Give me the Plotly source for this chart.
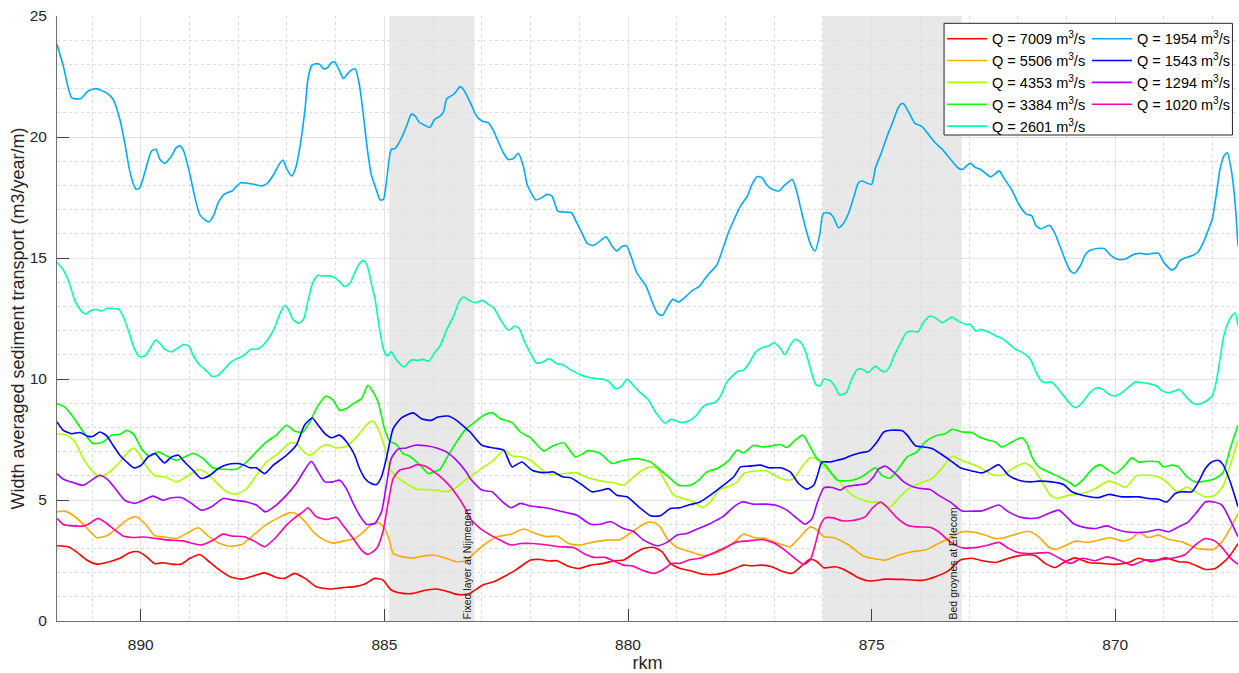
import plotly.graph_objects as go

# ---------------- data ----------------
discharges = [7009, 5506, 4353, 3384, 2601, 1954, 1543, 1294, 1020]
line_colors = ["#ff0000", "#ffaa00", "#aaff00", "#00ff00", "#00ffaa",
               "#00aaff", "#0000ff", "#aa00ff", "#ff00aa"]

q7009 = [(891.72,3.11),(891.49,3.07),(891.32,2.86),(891.11,2.52),(890.91,2.35),(890.70,2.42),(890.43,2.59),(890.23,2.82),(890.05,2.86),(889.88,2.65),(889.71,2.37),(889.54,2.41),(889.37,2.35),(889.17,2.35),(888.99,2.59),(888.79,2.75),(888.58,2.42),(888.38,2.10),(888.17,1.83),(887.93,1.73),(887.69,1.86),(887.46,1.99),(887.22,1.80),(887.05,1.76),(886.84,1.97),(886.63,1.76),(886.40,1.42),(886.12,1.32),(885.85,1.38),(885.61,1.42),(885.40,1.53),(885.20,1.76),(885.03,1.69),(884.86,1.28),(884.62,1.14),(884.41,1.14),(884.21,1.25),(883.93,1.32),(883.69,1.21),(883.52,1.10),(883.32,1.10),(883.24,1.15),(882.96,1.51),(882.76,1.62),(882.55,1.83),(882.31,2.10),(882.00,2.52),(881.80,2.54),(881.63,2.48),(881.46,2.49),(881.25,2.28),(881.01,2.17),(880.77,2.31),(880.50,2.38),(880.29,2.49),(880.09,2.52),(879.88,2.79),(879.68,3.00),(879.47,3.04),(879.30,2.86),(879.13,2.38),(878.93,2.17),(878.72,2.08),(878.45,1.93),(878.17,1.93),(877.97,2.04),(877.76,2.21),(877.63,2.31),(877.46,2.28),(877.25,2.31),(877.05,2.24),(876.84,2.06),(876.63,1.97),(876.46,2.24),(876.26,2.56),(876.12,2.45),(875.98,2.20),(875.75,2.24),(875.54,2.10),(875.27,1.79),(875.03,1.65),(874.72,1.73),(874.38,1.72),(873.97,1.68),(873.69,1.83),(873.42,2.08),(873.18,2.52),(872.94,2.59),(872.70,2.48),(872.46,2.42),(872.19,2.59),(871.92,2.72),(871.64,2.70),(871.44,2.38),(871.23,2.21),(871.03,2.45),(870.82,2.61),(870.55,2.42),(870.27,2.38),(870.00,2.34),(869.73,2.42),(869.52,2.59),(869.25,2.45),(868.97,2.61),(868.70,2.45),(868.50,2.42),(868.29,2.24),(868.15,2.13),(867.95,2.17),(867.78,2.42),(867.64,2.72),(867.48,3.20)]

q5506 = [(891.72,4.51),(891.56,4.54),(891.39,4.37),(891.18,4.00),(890.91,3.45),(890.70,3.52),(890.50,3.82),(890.29,4.17),(890.09,4.31),(889.92,4.03),(889.71,3.52),(889.54,3.48),(889.27,3.41),(889.06,3.62),(888.82,3.85),(888.62,3.52),(888.38,3.20),(888.17,3.09),(887.93,3.16),(887.69,3.55),(887.42,3.99),(887.18,4.26),(886.94,4.48),(886.80,4.42),(886.63,4.10),(886.43,3.62),(886.19,3.30),(886.05,3.22),(885.85,3.30),(885.61,3.41),(885.44,3.66),(885.27,3.99),(885.13,4.07),(884.99,3.82),(884.89,3.27),(884.82,2.79),(884.62,2.65),(884.41,2.61),(884.21,2.68),(883.97,2.72),(883.73,2.59),(883.52,2.45),(883.32,2.49),(883.24,2.65),(882.96,3.14),(882.69,3.48),(882.41,3.58),(882.14,3.80),(881.90,3.62),(881.66,3.48),(881.46,3.51),(881.22,3.20),(880.98,3.14),(880.70,3.27),(880.43,3.34),(880.16,3.37),(879.99,3.58),(879.82,3.82),(879.61,4.07),(879.47,4.07),(879.34,3.89),(879.20,3.41),(878.99,3.03),(878.72,2.86),(878.45,2.70),(878.17,2.83),(877.97,3.03),(877.80,3.30),(877.63,3.59),(877.42,3.45),(877.18,3.41),(876.98,3.25),(876.81,3.14),(876.67,3.07),(876.50,3.41),(876.26,3.89),(876.12,3.76),(875.98,3.48),(875.78,3.45),(875.47,3.14),(875.20,2.72),(874.99,2.59),(874.72,2.52),(874.45,2.72),(874.17,2.86),(873.90,2.93),(873.69,3.14),(873.42,3.41),(873.15,3.69),(872.87,3.66),(872.67,3.55),(872.46,3.41),(872.26,3.45),(872.05,3.58),(871.78,3.71),(871.57,3.48),(871.37,3.07),(871.23,2.96),(871.03,3.11),(870.82,3.30),(870.55,3.25),(870.27,3.38),(870.10,3.44),(869.86,3.30),(869.66,3.41),(869.52,3.66),(869.32,3.45),(869.11,3.55),(868.91,3.38),(868.63,3.27),(868.36,3.03),(868.22,2.97),(867.98,2.97),(867.81,3.27),(867.64,3.82),(867.48,4.44)]

q4353 = [(891.72,7.74),(891.52,7.68),(891.35,7.40),(891.18,6.71),(891.01,6.23),(890.84,5.96),(890.64,6.16),(890.43,6.57),(890.26,6.99),(890.14,7.15),(890.02,6.85),(889.88,6.37),(889.71,6.00),(889.51,5.96),(889.27,5.75),(889.06,5.96),(888.82,6.26),(888.65,6.12),(888.45,5.72),(888.24,5.34),(888.04,5.24),(887.83,5.47),(887.63,6.02),(887.42,6.57),(887.18,6.92),(886.94,7.37),(886.80,7.33),(886.67,7.02),(886.53,6.85),(886.33,7.15),(886.19,7.29),(885.98,7.15),(885.78,7.22),(885.57,7.61),(885.34,8.16),(885.23,8.25),(885.13,7.95),(884.99,7.13),(884.89,6.30),(884.75,5.96),(884.55,5.68),(884.34,5.45),(884.14,5.43),(883.93,5.41),(883.76,5.34),(883.59,5.43),(883.45,5.64),(883.32,5.86),(883.24,5.96),(882.96,6.37),(882.76,6.64),(882.55,7.06),(882.38,6.82),(882.18,6.78),(882.00,6.64),(881.80,6.30),(881.59,6.05),(881.32,6.09),(881.08,6.13),(880.84,5.93),(880.57,5.79),(880.29,5.71),(880.09,5.61),(879.92,5.89),(879.71,6.23),(879.54,6.37),(879.40,6.30),(879.23,5.75),(879.06,5.20),(878.86,5.06),(878.65,4.92),(878.48,4.69),(878.31,4.92),(878.14,5.41),(877.93,5.57),(877.76,5.75),(877.63,6.09),(877.42,6.19),(877.15,6.20),(876.94,5.96),(876.74,5.82),(876.60,5.89),(876.43,6.37),(876.26,6.75),(876.12,6.69),(875.95,6.33),(875.71,5.89),(875.54,5.47),(875.34,5.13),(875.06,4.92),(874.86,4.92),(874.62,4.72),(874.45,5.06),(874.24,5.47),(873.97,5.72),(873.76,5.89),(873.56,6.30),(873.35,6.81),(873.11,6.60),(872.80,6.37),(872.53,6.05),(872.33,6.02),(872.05,6.37),(871.85,6.53),(871.68,6.30),(871.50,5.75),(871.33,5.20),(871.20,5.06),(870.96,5.20),(870.68,5.27),(870.41,5.47),(870.14,5.78),(869.97,5.68),(869.79,5.52),(869.56,6.00),(869.32,6.02),(869.08,5.93),(868.91,5.68),(868.73,5.34),(868.53,5.54),(868.36,5.34),(868.15,5.13),(867.95,5.20),(867.78,5.61),(867.64,6.44),(867.48,7.47)]

q3384 = [(891.72,8.98),(891.56,8.84),(891.39,8.43),(891.18,7.81),(890.98,7.33),(890.77,7.40),(890.60,7.68),(890.43,7.72),(890.28,7.88),(890.14,7.70),(889.99,7.13),(889.82,6.81),(889.64,6.99),(889.47,6.82),(889.27,6.64),(889.10,6.78),(888.93,6.92),(888.72,6.71),(888.52,6.33),(888.31,6.27),(888.04,6.27),(887.83,6.57),(887.63,6.99),(887.42,7.40),(887.22,7.68),(887.01,8.09),(886.84,7.84),(886.67,7.81),(886.53,8.23),(886.36,8.91),(886.19,9.30),(886.05,9.12),(885.92,8.71),(885.78,8.78),(885.64,8.98),(885.47,9.19),(885.34,9.74),(885.23,9.46),(885.13,9.05),(884.99,7.88),(884.89,7.43),(884.75,7.29),(884.62,6.92),(884.48,6.81),(884.27,6.44),(884.10,6.09),(884.00,6.16),(883.86,6.27),(883.73,6.71),(883.52,7.40),(883.32,7.95),(883.17,8.18),(882.96,8.50),(882.79,8.61),(882.62,8.36),(882.38,8.20),(882.21,7.81),(882.00,7.57),(881.73,7.02),(881.56,7.22),(881.32,7.36),(881.08,6.78),(880.81,7.04),(880.57,6.92),(880.33,6.51),(880.09,6.64),(879.82,6.71),(879.54,6.57),(879.37,6.30),(879.17,5.96),(878.96,5.61),(878.72,5.61),(878.55,5.82),(878.38,6.16),(878.17,6.30),(877.93,6.64),(877.76,7.06),(877.63,6.95),(877.42,7.26),(877.25,7.19),(877.05,7.24),(876.87,7.29),(876.74,7.17),(876.57,7.47),(876.41,7.68),(876.26,7.19),(876.12,6.71),(875.95,6.44),(875.71,5.82),(875.61,5.79),(875.40,5.82),(875.20,5.96),(875.06,6.16),(874.92,6.33),(874.79,6.02),(874.62,5.91),(874.45,6.30),(874.27,6.78),(874.07,6.99),(873.90,7.40),(873.69,7.65),(873.49,7.74),(873.35,7.92),(873.15,7.81),(872.94,7.79),(872.80,7.61),(872.60,7.47),(872.46,7.40),(872.33,7.19),(872.12,7.40),(871.92,7.57),(871.81,7.33),(871.71,6.78),(871.57,6.37),(871.37,6.16),(871.16,5.96),(870.96,5.75),(870.82,5.58),(870.65,5.86),(870.48,6.27),(870.31,6.46),(870.17,6.27),(870.00,6.09),(869.83,6.37),(869.66,6.74),(869.52,6.57),(869.32,6.60),(869.11,6.57),(869.01,6.37),(868.84,6.44),(868.70,6.37),(868.53,5.96),(868.36,5.75),(868.15,5.78),(867.95,5.89),(867.78,6.16),(867.64,7.13),(867.48,8.09)]

q2601 = [(891.72,14.81),(891.60,14.53),(891.47,13.98),(891.35,13.22),(891.19,12.74),(891.11,12.70),(891.04,12.81),(890.92,12.88),(890.80,12.81),(890.69,12.92),(890.57,12.91),(890.45,12.88),(890.35,12.53),(890.24,11.91),(890.14,11.29),(890.02,10.92),(889.92,10.95),(889.82,11.23),(889.69,11.61),(889.59,11.43),(889.51,11.23),(889.38,11.12),(889.23,11.29),(889.12,11.43),(889.01,11.36),(888.92,10.95),(888.80,10.60),(888.65,10.33),(888.53,10.10),(888.41,10.15),(888.29,10.40),(888.17,10.67),(888.06,10.81),(887.90,10.95),(887.74,11.23),(887.62,11.23),(887.51,11.36),(887.39,11.64),(887.27,12.05),(887.15,12.67),(887.05,13.04),(886.97,12.88),(886.88,12.47),(886.76,12.30),(886.66,12.47),(886.57,13.22),(886.47,13.98),(886.37,14.28),(886.25,14.26),(886.13,14.26),(886.02,14.19),(885.90,13.98),(885.82,13.82),(885.70,13.98),(885.61,14.39),(885.51,14.77),(885.43,14.90),(885.35,14.67),(885.27,13.98),(885.19,13.29),(885.11,12.19),(885.02,11.23),(884.94,10.95),(884.86,11.12),(884.76,10.81),(884.60,10.50),(884.45,10.79),(884.33,10.77),(884.21,10.81),(884.09,10.74),(883.97,11.09),(883.86,11.36),(883.72,12.05),(883.58,12.60),(883.46,13.22),(883.37,13.39),(883.27,13.26),(883.13,13.15),(882.99,13.25),(882.87,13.09),(882.76,12.95),(882.64,12.53),(882.48,12.05),(882.41,12.05),(882.33,12.19),(882.23,12.08),(882.13,11.57),(882.01,11.09),(881.89,10.67),(881.78,10.67),(881.62,10.84),(881.46,10.63),(881.35,10.60),(881.19,10.40),(880.99,10.19),(880.80,10.06),(880.60,10.01),(880.41,9.92),(880.25,9.60),(880.13,9.71),(880.02,9.99),(879.91,9.78),(879.78,9.50),(879.59,9.16),(879.43,8.61),(879.24,8.17),(879.12,8.33),(879.00,8.26),(878.92,8.20),(878.76,8.26),(878.61,8.47),(878.45,8.88),(878.33,8.98),(878.22,9.02),(878.10,9.30),(877.98,9.85),(877.86,10.12),(877.74,10.33),(877.63,10.36),(877.51,10.67),(877.39,11.09),(877.25,11.29),(877.12,11.36),(877.00,11.50),(876.88,11.29),(876.78,11.00),(876.68,11.36),(876.57,11.64),(876.45,11.50),(876.35,11.09),(876.25,10.40),(876.15,9.78),(876.06,9.71),(875.98,9.99),(875.84,9.92),(875.74,9.64),(875.66,9.34),(875.52,9.44),(875.41,9.99),(875.29,10.40),(875.19,10.40),(875.08,10.26),(875.00,10.40),(874.92,10.54),(874.84,10.40),(874.74,10.29),(874.64,10.47),(874.54,10.95),(874.42,11.43),(874.29,11.91),(874.17,11.98),(874.05,11.94),(873.94,12.33),(873.80,12.60),(873.70,12.53),(873.54,12.33),(873.45,12.44),(873.35,12.56),(873.23,12.40),(873.07,12.26),(872.98,12.26),(872.86,11.98),(872.76,12.05),(872.60,11.94),(872.45,11.78),(872.29,11.64),(872.17,11.43),(872.05,11.23),(871.90,11.09),(871.74,10.81),(871.62,10.26),(871.52,9.92),(871.43,9.85),(871.31,9.88),(871.19,9.64),(871.03,9.23),(870.88,8.88),(870.80,8.82),(870.68,9.02),(870.52,9.44),(870.37,9.64),(870.25,9.57),(870.13,9.37),(870.01,9.30),(869.86,9.44),(869.70,9.71),(869.58,9.88),(869.46,9.85),(869.31,9.81),(869.15,9.71),(869.03,9.50),(868.87,9.44),(868.68,9.57),(868.56,9.30),(868.44,9.05),(868.33,8.95),(868.17,9.05),(868.01,9.30),(867.93,9.85),(867.85,10.81),(867.77,11.78),(867.65,12.47),(867.54,12.74),(867.48,12.19)]

q1954 = [(891.72,23.83),(891.59,22.93),(891.42,21.63),(891.24,21.58),(891.08,21.90),(890.92,22.00),(890.69,21.80),(890.57,21.56),(890.43,20.73),(890.33,19.77),(890.22,18.53),(890.10,17.84),(890.02,17.90),(889.90,18.66),(889.78,19.42),(889.69,19.49),(889.61,19.08),(889.51,18.91),(889.39,19.15),(889.27,19.56),(889.19,19.63),(889.12,19.42),(889.00,18.53),(888.88,17.42),(888.78,16.76),(888.61,16.49),(888.51,16.74),(888.41,17.29),(888.29,17.63),(888.13,17.77),(888.06,17.91),(887.95,18.11),(887.82,18.09),(887.66,18.04),(887.51,17.98),(887.39,18.11),(887.27,18.46),(887.15,18.90),(887.08,19.05),(887.00,18.66),(886.90,18.39),(886.82,18.73),(886.72,19.77),(886.63,21.14),(886.57,22.38),(886.49,22.96),(886.41,23.03),(886.33,23.00),(886.25,22.82),(886.17,22.86),(886.09,23.07),(886.02,23.10),(885.94,22.82),(885.84,22.41),(885.78,22.55),(885.70,22.73),(885.60,22.82),(885.51,22.11),(885.43,20.87),(885.35,19.49),(885.27,18.46),(885.17,17.84),(885.09,17.40),(885.02,17.42),(884.96,18.11),(884.86,19.49),(884.78,19.52),(884.70,19.77),(884.60,20.18),(884.52,20.59),(884.45,20.94),(884.37,20.87),(884.29,20.62),(884.17,20.48),(884.07,20.39),(883.97,20.73),(883.87,20.84),(883.79,21.03),(883.72,21.58),(883.58,21.76),(883.52,21.90),(883.45,22.08),(883.37,21.94),(883.27,21.56),(883.19,21.21),(883.11,20.87),(883.00,20.66),(882.87,20.59),(882.76,20.25),(882.64,19.70),(882.56,19.35),(882.46,19.08),(882.36,19.10),(882.25,19.33),(882.15,18.80),(882.07,18.04),(881.97,17.63),(881.89,17.40),(881.77,17.49),(881.66,17.63),(881.56,17.56),(881.44,16.94),(881.31,16.90),(881.16,16.87),(881.07,16.53),(880.95,16.05),(880.84,15.61),(880.72,15.52),(880.60,15.66),(880.45,15.88),(880.33,15.50),(880.23,15.29),(880.13,15.47),(880.03,15.50),(879.94,15.08),(879.82,14.39),(879.63,13.84),(879.51,13.22),(879.39,12.70),(879.29,12.63),(879.20,12.95),(879.08,13.29),(878.96,13.18),(878.82,13.39),(878.69,13.64),(878.53,13.84),(878.43,14.12),(878.33,14.37),(878.18,14.70),(878.08,15.22),(877.94,16.05),(877.82,16.60),(877.69,17.15),(877.55,17.56),(877.47,17.98),(877.35,18.36),(877.25,18.32),(877.16,18.04),(877.04,17.84),(876.90,17.77),(876.80,17.98),(876.72,18.11),(876.63,18.25),(876.54,17.77),(876.45,17.01),(876.33,16.05),(876.24,15.50),(876.16,15.29),(876.07,15.91),(875.99,16.85),(875.86,16.85),(875.78,16.67),(875.68,16.25),(875.57,16.46),(875.47,16.87),(875.37,17.49),(875.27,18.11),(875.19,18.18),(875.11,18.11),(875.00,18.04),(874.92,18.73),(874.80,19.35),(874.68,20.04),(874.57,20.59),(874.47,21.14),(874.41,21.35),(874.35,21.38),(874.25,21.07),(874.11,20.56),(873.98,20.45),(873.86,20.18),(873.70,19.77),(873.55,19.49),(873.37,19.05),(873.23,18.73),(873.14,18.66),(872.98,18.91),(872.86,18.73),(872.76,18.66),(872.64,18.46),(872.55,18.35),(872.38,18.60),(872.29,18.32),(872.13,17.84),(871.98,17.22),(871.82,16.80),(871.72,16.76),(871.62,16.32),(871.52,16.21),(871.35,16.35),(871.23,15.98),(871.11,15.36),(870.99,14.74),(870.92,14.46),(870.84,14.37),(870.72,14.67),(870.60,15.19),(870.50,15.33),(870.37,15.39),(870.23,15.39),(870.09,15.11),(869.93,14.94),(869.78,14.97),(869.62,15.15),(869.46,15.19),(869.35,15.15),(869.23,15.19),(869.11,15.19),(869.00,14.81),(868.84,14.50),(868.76,14.60),(868.68,14.88),(868.56,15.01),(868.44,15.08),(868.30,15.25),(868.21,15.56),(868.11,16.05),(868.01,16.60),(867.93,17.56),(867.85,18.66),(867.77,19.21),(867.70,19.35),(867.62,18.66),(867.54,17.29),(867.48,15.50)]

q1543 = [(891.72,8.23),(891.59,7.88),(891.42,7.74),(891.25,7.79),(891.08,7.63),(890.98,7.63),(890.84,7.81),(890.70,7.65),(890.57,7.26),(890.43,6.85),(890.29,6.57),(890.14,6.33),(889.99,6.44),(889.85,6.78),(889.71,6.92),(889.61,6.71),(889.51,6.53),(889.37,6.78),(889.23,6.85),(889.10,6.57),(888.93,6.23),(888.76,5.89),(888.58,6.02),(888.41,6.30),(888.24,6.46),(888.04,6.51),(887.90,6.46),(887.76,6.33),(887.63,6.33),(887.46,6.09),(887.28,6.44),(887.01,6.85),(886.81,7.26),(886.64,8.09),(886.48,8.39),(886.36,8.09),(886.22,7.74),(886.09,7.57),(885.92,7.68),(885.75,7.33),(885.61,6.85),(885.51,6.30),(885.40,5.89),(885.27,5.68),(885.16,5.64),(885.06,5.96),(884.96,6.71),(884.82,7.95),(884.65,8.39),(884.41,8.60),(884.24,8.36),(884.04,8.29),(883.90,8.43),(883.69,8.47),(883.52,8.29),(883.32,7.95),(883.24,7.81),(883.00,7.26),(882.76,7.15),(882.55,7.06),(882.38,6.37),(882.18,6.57),(881.97,6.23),(881.73,6.13),(881.53,6.16),(881.35,5.96),(881.18,5.92),(880.98,5.68),(880.74,5.34),(880.53,5.41),(880.40,5.47),(880.23,5.20),(880.02,5.13),(879.78,4.72),(879.54,4.35),(879.34,4.35),(879.13,4.65),(878.93,4.68),(878.72,4.81),(878.52,4.92),(878.31,5.20),(878.04,5.61),(877.83,5.96),(877.69,6.37),(877.52,6.40),(877.28,6.44),(877.11,6.33),(876.87,6.33),(876.67,6.16),(876.50,5.68),(876.33,5.45),(876.19,5.61),(876.09,6.16),(876.02,6.57),(875.85,6.57),(875.71,6.64),(875.57,6.71),(875.40,6.85),(875.23,6.95),(875.06,7.02),(874.89,7.40),(874.75,7.81),(874.62,7.88),(874.38,7.87),(874.27,7.68),(874.10,7.24),(873.93,7.19),(873.76,7.13),(873.59,6.92),(873.39,6.64),(873.18,6.33),(872.94,6.20),(872.74,6.12),(872.60,6.23),(872.39,6.46),(872.19,6.02),(871.98,5.82),(871.74,5.75),(871.57,5.78),(871.30,5.75),(871.06,5.64),(870.89,5.34),(870.68,5.20),(870.34,5.10),(870.14,5.23),(869.86,5.13),(869.52,5.13),(869.32,5.06),(869.11,5.03),(868.94,4.92),(868.77,5.27),(868.63,5.34),(868.43,5.34),(868.29,5.75),(868.15,6.30),(868.02,6.57),(867.89,6.64),(867.78,6.44),(867.64,5.75),(867.48,4.72)]

q1294 = [(891.72,6.09),(891.59,5.86),(891.39,5.72),(891.18,5.61),(891.01,5.82),(890.84,6.02),(890.67,5.82),(890.50,5.41),(890.33,4.99),(890.12,4.86),(889.95,4.99),(889.75,5.16),(889.54,4.99),(889.37,5.09),(889.17,5.10),(888.96,4.86),(888.76,4.58),(888.55,4.72),(888.31,5.06),(888.07,4.99),(887.83,4.92),(887.63,4.79),(887.44,4.51),(887.22,4.79),(887.01,5.20),(886.81,5.68),(886.64,6.23),(886.50,6.60),(886.36,6.16),(886.22,5.75),(886.05,5.75),(885.92,5.82),(885.78,5.47),(885.64,4.86),(885.51,4.37),(885.37,4.00),(885.20,4.03),(885.06,4.51),(884.96,5.61),(884.86,6.71),(884.72,7.10),(884.55,7.15),(884.38,7.26),(884.14,7.24),(883.93,7.15),(883.73,6.99),(883.52,6.64),(883.32,6.16),(883.24,5.89),(883.00,5.41),(882.79,5.34),(882.59,4.95),(882.40,4.68),(882.21,4.86),(882.00,4.75),(881.73,4.69),(881.46,4.58),(881.25,4.47),(881.05,4.37),(880.77,4.00),(880.57,4.00),(880.36,4.10),(880.09,3.82),(879.88,3.69),(879.68,3.34),(879.40,3.11),(879.20,3.25),(878.99,3.55),(878.79,3.62),(878.58,3.80),(878.31,4.03),(878.04,4.33),(877.83,4.72),(877.66,4.92),(877.42,4.83),(877.18,4.83),(876.98,4.79),(876.74,4.58),(876.53,4.24),(876.36,4.00),(876.22,4.24),(876.12,4.86),(875.98,5.50),(875.81,5.52),(875.64,5.41),(875.54,5.54),(875.34,5.61),(875.10,5.68),(874.96,5.96),(874.86,6.27),(874.72,6.40),(874.55,6.16),(874.34,5.75),(874.14,5.54),(873.97,5.47),(873.80,5.43),(873.63,5.20),(873.39,4.92),(873.15,4.55),(872.94,4.54),(872.74,4.55),(872.56,4.68),(872.39,4.79),(872.19,4.51),(871.98,4.31),(871.78,4.24),(871.57,4.27),(871.37,4.44),(871.16,4.58),(871.03,4.37),(870.86,4.03),(870.68,3.89),(870.41,3.82),(870.17,3.93),(870.00,3.80),(869.79,3.69),(869.52,3.66),(869.32,3.69),(869.11,3.78),(868.91,3.69),(868.70,3.89),(868.50,4.10),(868.32,4.51),(868.15,4.92),(867.98,4.92),(867.81,4.79),(867.64,4.17),(867.48,3.48)]

q1020 = [(891.72,4.24),(891.59,3.99),(891.39,3.93),(891.18,3.92),(891.05,4.03),(890.88,4.24),(890.70,4.03),(890.57,3.82),(890.36,3.51),(890.16,3.45),(889.95,3.47),(889.68,3.41),(889.41,3.34),(889.13,3.31),(888.93,3.20),(888.76,3.14),(888.52,3.34),(888.31,3.59),(888.14,3.51),(887.87,3.48),(887.63,3.25),(887.46,3.07),(887.25,3.41),(887.01,3.96),(886.81,4.31),(886.67,4.51),(886.57,4.68),(886.40,4.31),(886.19,4.20),(885.98,4.28),(885.85,3.96),(885.64,3.41),(885.47,2.93),(885.34,2.75),(885.16,3.00),(885.03,3.69),(884.92,4.92),(884.82,5.89),(884.69,6.23),(884.48,6.33),(884.34,6.46),(884.17,6.40),(884.00,6.19),(883.79,5.85),(883.59,5.41),(883.32,4.58),(883.24,4.24),(883.03,3.82),(882.82,3.55),(882.62,3.34),(882.41,3.14),(882.21,3.20),(881.94,3.20),(881.66,3.14),(881.39,3.07),(881.11,3.03),(880.91,2.79),(880.70,2.63),(880.47,2.63),(880.26,2.45),(880.09,2.31),(879.92,2.28),(879.71,2.10),(879.47,1.97),(879.30,2.10),(879.10,2.38),(878.93,2.38),(878.72,2.54),(878.52,2.59),(878.24,2.82),(877.97,3.07),(877.76,3.27),(877.52,3.31),(877.25,3.37),(876.98,3.20),(876.74,2.86),(876.53,2.52),(876.40,2.34),(876.26,2.52),(876.16,3.14),(876.05,3.96),(875.95,4.26),(875.78,4.26),(875.61,4.14),(875.34,4.17),(875.13,4.31),(874.99,4.65),(874.82,4.92),(874.69,4.72),(874.48,4.26),(874.27,3.96),(874.07,3.89),(873.80,3.87),(873.63,3.69),(873.39,3.27),(873.15,3.03),(872.87,3.03),(872.60,3.14),(872.39,3.25),(872.19,3.00),(871.98,2.82),(871.71,2.79),(871.37,2.82),(871.16,2.61),(870.92,2.38),(870.68,2.59),(870.41,2.49),(870.17,2.65),(869.93,2.52),(869.66,2.31),(869.38,2.52),(869.11,2.52),(868.84,2.59),(868.56,2.75),(868.36,3.14),(868.15,3.41),(867.95,3.30),(867.78,2.97),(867.64,2.61),(867.48,2.34)]

series_points = [q7009, q5506, q4353, q3384, q2601, q1954, q1543, q1294, q1020]

# shaded reaches: (start rkm, end rkm, label, label rkm)
reaches = [(884.90, 883.15, "Fixed layer at Nijmegen", 883.30),
           (876.00, 873.15, "Bed groynes at Erlecom", 873.32)]

x_range = [891.72, 867.48]
y_range = [0, 25]

# ---------------- figure ----------------
FONT = "Liberation Sans, Arial, Helvetica, sans-serif"
fig = go.Figure()

for i, (q, pts, col) in enumerate(zip(discharges, series_points, line_colors)):
    xs = [p[0] for p in pts]
    ys = [p[1] for p in pts]
    fig.add_trace(go.Scatter(
        x=xs, y=ys, mode="lines",
        name=f"Q = {q} m<sup>3</sup>/s",
        line=dict(color=col, width=1.6, shape="spline", smoothing=0.6),
        legend="legend" if i < 5 else "legend2",
    ))

shapes = []
annotations = []
for x0, x1, label, xl in reaches:
    shapes.append(dict(type="rect", xref="x", yref="paper", x0=x0, x1=x1, y0=0, y1=1,
                       fillcolor="#e8e8e8", line=dict(width=0), layer="below"))
    annotations.append(dict(x=xl, y=0, xref="x", yref="y", text=label, textangle=-90,
                            showarrow=False, xanchor="center", yanchor="bottom",
                            font=dict(family=FONT, size=10.5, color="#1a1a1a")))

# legend frame
shapes.append(dict(type="rect", xref="paper", yref="paper", x0=0.7511, x1=0.9953,
                   y0=0.8033, y1=0.9879, fillcolor="white",
                   line=dict(color="#262626", width=1), layer="above"))

legend_common = dict(xanchor="left", yanchor="top", bgcolor="rgba(0,0,0,0)",
                     borderwidth=0, itemwidth=40, tracegroupgap=0,
                     font=dict(family=FONT, size=14.5, color="#000000"))

fig.update_layout(
    width=1239, height=673,
    margin=dict(l=57, r=1, t=16, b=52),
    paper_bgcolor="white", plot_bgcolor="white",
    font=dict(family=FONT, color="#262626"),
    showlegend=True,
    legend=dict(x=0.7494, y=0.9888, **legend_common),
    legend2=dict(x=0.8721, y=0.9888, **legend_common),
    shapes=shapes,
    annotations=annotations,
    xaxis=dict(
        range=x_range, tickmode="linear", tick0=0, dtick=5,
        ticks="inside", ticklen=12, tickcolor="#404040", tickwidth=1,
        showline=True, linecolor="#707070", linewidth=1,
        showgrid=True, gridcolor="#e2e2e2", gridwidth=1,
        zeroline=False, ticklabelstandoff=9,
        tickfont=dict(family=FONT, size=15.5, color="#262626"),
        minor=dict(dtick=1, tick0=0, showgrid=True, gridcolor="#dcdcdc",
                   griddash="dot", gridwidth=1, ticks=""),
        title=dict(text="rkm", standoff=6, font=dict(family=FONT, size=18, color="#262626")),
    ),
    yaxis=dict(
        range=y_range, tickmode="linear", tick0=0, dtick=5,
        ticks="inside", ticklen=12, tickcolor="#404040", tickwidth=1,
        showline=True, linecolor="#707070", linewidth=1,
        showgrid=True, gridcolor="#e2e2e2", gridwidth=1,
        zeroline=False, ticklabelstandoff=6,
        tickfont=dict(family=FONT, size=15.5, color="#262626"),
        minor=dict(dtick=1, tick0=0, showgrid=True, gridcolor="#dcdcdc",
                   griddash="dot", gridwidth=1, ticks=""),
        title=dict(text="Width averaged sediment transport (m3/year/m)", standoff=0,
                   font=dict(family=FONT, size=18, color="#262626")),
    ),
)

fig.write_html(
    "out.html",
    config={"displayModeBar": False},
    post_script="document.body.style.margin='0';document.body.style.overflow='hidden';",
)
